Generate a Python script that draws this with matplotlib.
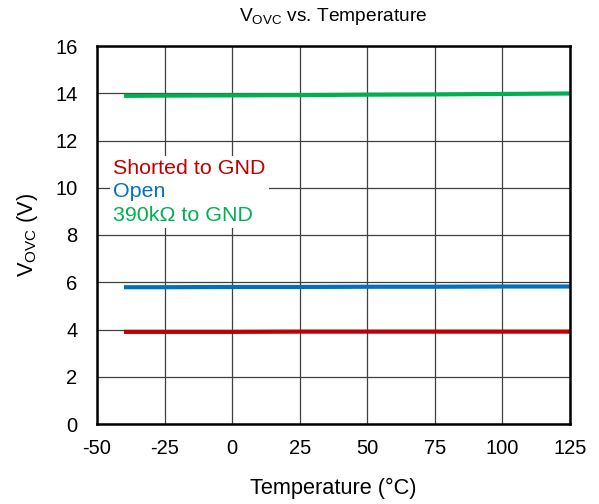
import matplotlib.pyplot as plt

plt.rcParams['font.family'] = ['Liberation Sans', 'DejaVu Sans']
plt.rcParams['axes.unicode_minus'] = False

# Temperature sweep and measured OVC threshold per configuration
temps = [-40, -25, 0, 25, 50, 75, 100, 125]
v_shorted = [3.90, 3.90, 3.90, 3.91, 3.91, 3.91, 3.91, 3.91]
v_open = [5.79, 5.79, 5.80, 5.80, 5.81, 5.81, 5.82, 5.82]
v_390k = [13.89, 13.90, 13.91, 13.92, 13.94, 13.95, 13.97, 13.99]

labels = ['Shorted to GND', 'Open', '390k\u03a9 to GND']
colors = ['#C00000', '#0070C0', '#00B050']

fig = plt.figure(figsize=(5.99, 5.04), dpi=100)
ax = fig.add_axes([97 / 599, 1 - 424 / 504, 473 / 599, 378 / 504])

for vals, lab, col in zip([v_shorted, v_open, v_390k], labels, colors):
    ax.plot(temps, vals, color=col, linewidth=3, label=lab, solid_capstyle='butt')

ax.set_xlim(-50, 125)
ax.set_ylim(0, 16)
ax.set_xticks(range(-50, 126, 25))
ax.set_yticks(range(0, 17, 2))
ax.grid(True, color='#404040', linewidth=0.9)
ax.set_axisbelow(True)
for s in ax.spines.values():
    s.set_linewidth(1.8)
    s.set_color('black')
ax.tick_params(length=0, labelsize=14.5)
ax.tick_params(axis='x', pad=11)
ax.tick_params(axis='y', pad=14)

ax.set_title('V$_{\\mathregular{OVC}}$ vs. Temperature', fontsize=13.8, pad=18)
ax.set_xlabel('Temperature (\u00b0C)', fontsize=15.7, labelpad=14)
ax.set_ylabel('V$_{\\mathregular{OVC}}$ (V)', fontsize=15.7, labelpad=11)

# legend as coloured text on a plain white box that hides the grid behind it
leg = ax.legend(loc='upper left', bbox_to_anchor=(0.028, 0.709), handlelength=0,
                handletextpad=0, frameon=True, fancybox=False, framealpha=1,
                facecolor='white', edgecolor='none', labelcolor='linecolor',
                fontsize=15.4, borderaxespad=0, borderpad=0.15, labelspacing=0.2)
for h in leg.legend_handles:
    h.set_visible(False)

fig.savefig('out.png', dpi=100)
